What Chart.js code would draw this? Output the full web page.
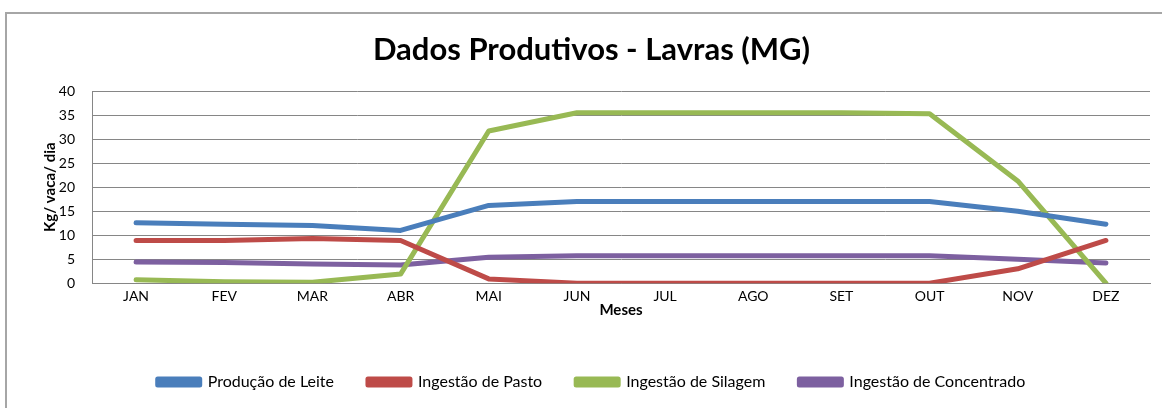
<!DOCTYPE html>
<html>
<head>
<meta charset="utf-8">
<script src="https://cdn.jsdelivr.net/npm/chart.js@4/dist/chart.umd.min.js"></script>
<style>
  html, body { margin: 0; padding: 0; background: #fff; overflow: hidden; }
  #wrap { position: relative; width: 1162px; height: 408px; }
  #frame { position: absolute; left: 5px; top: 12px; width: 1200px; height: 440px;
           border-left: 2px solid #a6a6a6; border-top: 2px solid #a6a6a6; }
  canvas { position: absolute; left: 0; top: 0; }
</style>
</head>
<body>
<div id="wrap">
  <div id="frame"></div>
  <canvas id="chart" width="1162" height="408"></canvas>
</div>
<script>
// Monthly data
const months = ['JAN', 'FEV', 'MAR', 'ABR', 'MAI', 'JUN', 'JUL', 'AGO', 'SET', 'OUT', 'NOV', 'DEZ'];
const leite = [12.6, 12.3, 12.0, 11.0, 16.2, 17.0, 17.0, 17.0, 17.0, 17.0, 15.0, 12.3];
const pasto = [8.9, 8.9, 9.3, 8.9, 0.9, 0, 0, 0, 0, 0, 3.0, 8.9];
const silagem = [0.7, 0.3, 0.2, 1.9, 31.7, 35.5, 35.5, 35.5, 35.5, 35.3, 21.3, 0];
const concentrado = [4.4, 4.3, 4.0, 3.8, 5.4, 5.7, 5.7, 5.7, 5.7, 5.7, 5.0, 4.2];

const FONT = 'Lato, Carlito, Calibri, sans-serif';

function line(label, data, color) {
  return {
    label,
    data,
    borderColor: color,
    backgroundColor: color,
    borderWidth: 5,
    pointRadius: 0,
    tension: 0,
    borderCapStyle: 'round',
    borderJoinStyle: 'round'
  };
}

new Chart(document.getElementById('chart'), {
  type: 'line',
  data: {
    labels: months,
    datasets: [
      line('Produção de Leite', leite, '#4a7ebb'),
      line('Ingestão de Pasto', pasto, '#be4b48'),
      line('Ingestão de Silagem', silagem, '#98b954'),
      line('Ingestão de Concentrado', concentrado, '#7d60a0')
    ]
  },
  options: {
    responsive: false,
    animation: false,
    layout: { padding: { left: 33, top: 10, right: 12, bottom: 8 } },
    plugins: {
      title: {
        display: true,
        text: 'Dados Produtivos - Lavras (MG)',
        color: '#000',
        font: { family: FONT, size: 31, weight: 'bold' },
        padding: { top: 21, bottom: 23 }
      },
      legend: {
        position: 'bottom',
        labels: {
          color: '#000',
          font: { family: FONT, size: 16 },
          boxWidth: 42,
          boxHeight: 6,
          padding: 34
        }
      },
      tooltip: { enabled: false }
    },
    scales: {
      x: {
        offset: true,
        grid: { display: false, drawTicks: false },
        border: { display: true, color: '#868686', width: 1 },
        ticks: { color: '#000', font: { family: FONT, size: 14 }, padding: 5, maxRotation: 0 },
        title: {
          display: true,
          text: 'Meses',
          color: '#000',
          font: { family: FONT, size: 15, weight: 'bold' },
          padding: { top: -9, bottom: 21 }
        }
      },
      y: {
        min: 0,
        max: 40,
        ticks: { stepSize: 5, color: '#000', font: { family: FONT, size: 14 }, padding: 17 },
        grid: { color: '#868686', lineWidth: 1, drawTicks: false },
        border: { display: true, color: '#868686', width: 1 },
        title: {
          display: true,
          text: 'Kg/ vaca/ dia',
          color: '#000',
          font: { family: FONT, size: 15, weight: 'bold' },
          padding: { top: 8, bottom: 0 }
        },
        afterFit: (scale) => { scale.width = 59; }
      }
    }
  }
});
</script>
</body>
</html>
